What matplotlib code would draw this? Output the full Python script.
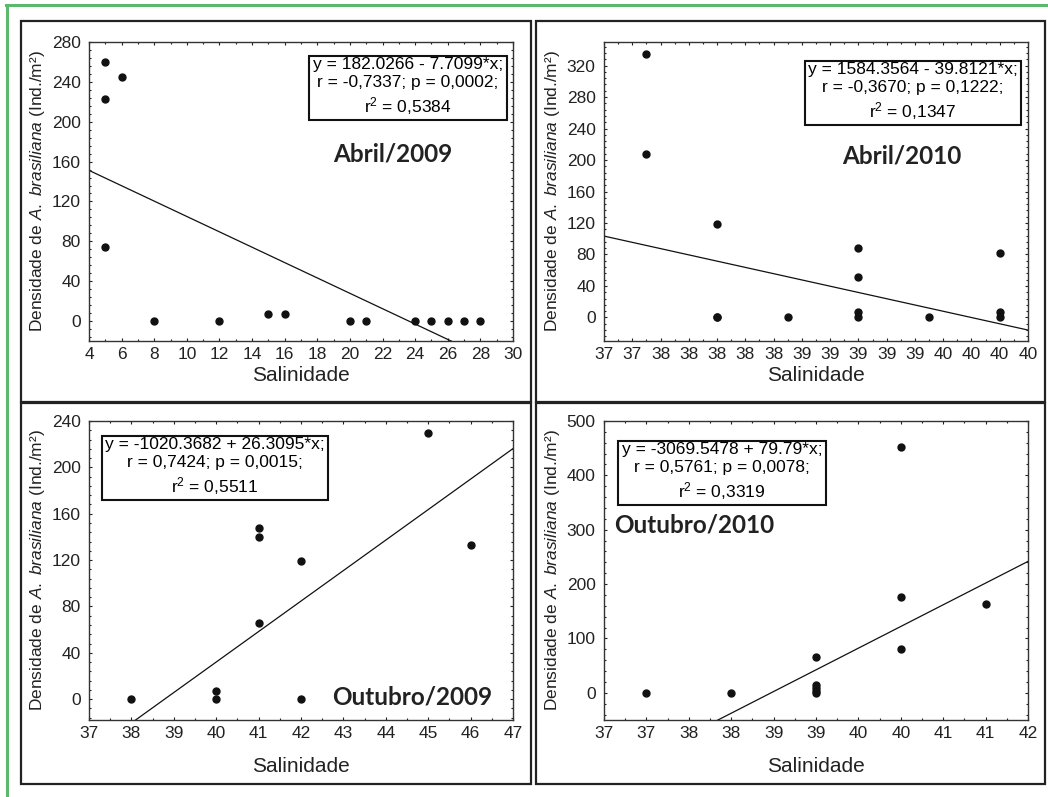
import matplotlib
matplotlib.use("Agg")
import matplotlib.pyplot as plt
from matplotlib.patches import Rectangle
from matplotlib.lines import Line2D
from matplotlib.ticker import AutoMinorLocator
import numpy as np

plt.rcParams['font.family'] = 'sans-serif'
plt.rcParams['font.sans-serif'] = ['Liberation Sans']
plt.rcParams['mathtext.fontset'] = 'custom'
plt.rcParams['mathtext.rm'] = 'Liberation Sans'
plt.rcParams['mathtext.it'] = 'Liberation Sans:italic'

# Abril/2009
sal_abr09 = [5, 5, 5, 6, 8, 12, 15, 16, 20, 21, 24, 25, 26, 27, 28]
dens_abr09 = [260, 223, 74, 245, 0, 0, 7, 7, 0, 0, 0, 0, 0, 0, 0]
# Abril/2010
sal_abr10 = [37.5, 37.5, 38.0, 38.0, 38.0, 38.5, 39.0, 39.0, 39.0, 39.0, 39.5, 40.0, 40.0, 40.0]
dens_abr10 = [335, 208, 119, 0, 0, 0, 88, 51, 7, 0, 0, 82, 7, 0]
# Outubro/2009
sal_out09 = [38, 40, 40, 41, 41, 41, 42, 42, 45, 46]
dens_out09 = [0, 7, 0, 148, 140, 66, 119, 0, 230, 133]
# Outubro/2010
sal_out10 = [37, 38, 39, 39, 39, 39, 39, 40, 40, 40, 41]
dens_out10 = [0, 0, 65, 14, 9, 4, 0, 453, 177, 81, 163]

# regression coefficients (intercept, slope)
fit_abr09 = (182.0266, -7.7099)
fit_abr10 = (1584.3564, -39.8121)
fit_out09 = (-1020.3682, 26.3095)
fit_out10 = (-3069.5478, 79.79)

stats_abr09 = "y = 182.0266 - 7.7099*x;\nr = -0,7337; p = 0,0002;\nr$^2$ = 0,5384"
stats_abr10 = "y = 1584.3564 - 39.8121*x;\nr = -0,3670; p = 0,1222;\nr$^2$ = 0,1347"
stats_out09 = "y = -1020.3682 + 26.3095*x;\nr = 0,7424; p = 0,0015;\nr$^2$ = 0,5511"
stats_out10 = "y = -3069.5478 + 79.79*x;\nr = 0,5761; p = 0,0078;\nr$^2$ = 0,3319"

xt_abr10 = [37.2, 37.4, 37.6, 37.8, 38.0, 38.2, 38.4, 38.6, 38.8, 39.0, 39.2, 39.4, 39.6, 39.8, 40.0, 40.2]
xl_abr10 = ['37', '37', '38', '38', '38', '38', '38', '39', '39', '39', '39', '39', '40', '40', '40', '40']
xt_out10 = [36.5, 37.0, 37.5, 38.0, 38.5, 39.0, 39.5, 40.0, 40.5, 41.0, 41.5]
xl_out10 = ['37', '37', '38', '38', '39', '39', '40', '40', '41', '41', '42']

W, H = 1048, 797
fig = plt.figure(figsize=(W / 100, H / 100), dpi=100)


def px_axes(l, t, r, b):
    return fig.add_axes([l / W, 1 - b / H, (r - l) / W, (b - t) / H])


def fig_xy(x, y):
    return x / W, 1 - y / H


# green frame
green = '#5cb86c'
fig.add_artist(Line2D([6 / W, 1], [1 - 5 / H, 1 - 5 / H], color=green, lw=2.2))
fig.add_artist(Line2D([6.5 / W, 6.5 / W], [0, 1 - 5 / H], color=green, lw=2.2))

# panel frames
for (l, t, r, b) in [(21, 21, 531, 402), (536, 21, 1045, 402),
                     (21, 403, 531, 784), (536, 403, 1045, 784)]:
    fig.add_artist(Rectangle((l / W, 1 - b / H), (r - l) / W, (b - t) / H,
                             fill=False, edgecolor='#222222', lw=1.6,
                             transform=fig.transFigure))

ylab = 'Densidade de $\\mathit{A.\\ brasiliana}$ (Ind./m²)'

panels = [
    dict(box=(89, 42, 513, 341), x=sal_abr09, y=dens_abr09, fit=fit_abr09,
         xlim=(4, 30), ylim=(-20, 280), yt=np.arange(0, 281, 40), xt=np.arange(4, 31, 2), xl=None,
         stats=stats_abr09, sxy=(408, 87), title='Abril/2009', txy=(393, 154),
         ylx=38, xly=375),
    dict(box=(604, 42, 1028, 341), x=sal_abr10, y=dens_abr10, fit=fit_abr10,
         xlim=(37.2, 40.2), ylim=(-30, 350), yt=np.arange(0, 321, 40), xt=xt_abr10, xl=xl_abr10,
         stats=stats_abr10, sxy=(913, 92), title='Abril/2010', txy=(902, 156),
         ylx=553, xly=375),
    dict(box=(89, 421, 513, 720), x=sal_out09, y=dens_out09, fit=fit_out09,
         xlim=(37, 47), ylim=(-18, 240), yt=np.arange(0, 241, 40), xt=np.arange(37, 48, 1), xl=None,
         stats=stats_out09, sxy=(215, 467), title='Outubro/2009', txy=(412, 697),
         ylx=38, xly=767),
    dict(box=(604, 421, 1028, 720), x=sal_out10, y=dens_out10, fit=fit_out10,
         xlim=(36.5, 41.5), ylim=(-50, 500), yt=np.arange(0, 501, 100), xt=xt_out10, xl=xl_out10,
         stats=stats_out10, sxy=(722, 472), title='Outubro/2010', txy=(694, 525),
         ylx=553, xly=767),
]

for p in panels:
    ax = px_axes(*p['box'])
    ax.plot(p['x'], p['y'], 'o', color='#111111', ms=5, zorder=3)
    xs = np.array(p['xlim'])
    ax.plot(xs, p['fit'][0] + p['fit'][1] * xs, color='#111111', lw=0.9)
    ax.set_xlim(*p['xlim'])
    ax.set_ylim(*p['ylim'])
    ax.set_yticks(p['yt'])
    ax.set_xticks(p['xt'])
    if p['xl'] is not None:
        ax.set_xticklabels(p['xl'])
    ax.xaxis.set_minor_locator(AutoMinorLocator(2))
    ax.yaxis.set_minor_locator(AutoMinorLocator(5))
    ax.tick_params(which='both', direction='in', top=True, right=True,
                   labelsize=12.5, colors='#222222', width=0.8)
    ax.tick_params(which='major', length=2.5)
    ax.tick_params(which='minor', length=1.5)
    ax.tick_params(axis='x', which='major', pad=4)
    ax.tick_params(axis='y', which='major', pad=6)
    for s in ax.spines.values():
        s.set_color('#333333')
        s.set_linewidth(1.0)

    fx, fy = fig_xy(*p['sxy'])
    fig.text(fx, fy, p['stats'], ha='center', va='center', multialignment='center',
             fontsize=12.5, linespacing=1.25,
             bbox=dict(boxstyle='square,pad=0.2', facecolor='white', edgecolor='#111111', lw=1.5))
    fx, fy = fig_xy(*p['txy'])
    fig.text(fx, fy, p['title'], ha='center', va='center', fontsize=17.5,
             fontweight='bold', family=['Lato', 'DejaVu Sans'], color='#222222')
    fx, fy = fig_xy(p['ylx'], (p['box'][1] + p['box'][3]) / 2)
    fig.text(fx, fy, ylab, rotation=90, ha='center', va='center', fontsize=12.5,
             color='#222222')
    fx, fy = fig_xy((p['box'][0] + p['box'][2]) / 2, p['xly'])
    fig.text(fx, fy, 'Salinidade', ha='center', va='center', fontsize=15,
             color='#222222')

fig.savefig('out.png', dpi=100)
